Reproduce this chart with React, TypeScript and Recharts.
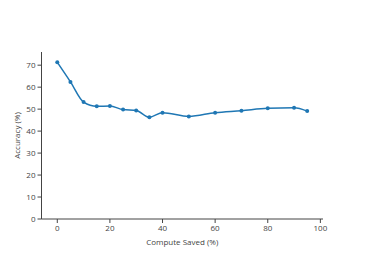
import { LineChart, Line, XAxis, YAxis } from 'recharts';

const computeSaved = [0, 5, 10, 15, 20, 25, 30, 35, 40, 50, 60, 70, 80, 90, 95];
const accuracy = [71.3, 62.4, 53.2, 51.3, 51.4, 49.8, 49.4, 46.3, 48.4, 46.7, 48.4, 49.3, 50.4, 50.6, 49.1];
const xTicks = [0, 20, 40, 60, 80, 100];
const yTicks = [0, 10, 20, 30, 40, 50, 60, 70];

const data = computeSaved.map((x, i) => ({ x, acc: accuracy[i] }));

const axisColor = '#444';
const font = '"Open Sans", Verdana, Arial, sans-serif';

export default function App() {
  return (
    <div style={{ position: 'absolute', left: 0, top: 0, background: '#fff' }}>
      <LineChart
        width={366}
        height={261}
        data={data}
        margin={{ top: 52, right: 43, bottom: 12, left: 0 }}
        style={{ fontFamily: font }}
      >
        <XAxis
          dataKey="x"
          type="number"
          domain={[-6, 101]}
          ticks={xTicks}
          height={30}
          tickSize={4}
          tickMargin={2}
          stroke={axisColor}
          tick={{ fill: axisColor, fontSize: 8 }}
          label={{
            value: 'Compute Saved (%)',
            position: 'insideBottom',
            offset: 4,
            style: { fill: axisColor, fontSize: 8 },
          }}
        />
        <YAxis
          type="number"
          domain={[0, 76]}
          ticks={yTicks}
          width={41.5}
          tickSize={4}
          tickMargin={2}
          stroke={axisColor}
          tick={{ fill: axisColor, fontSize: 8 }}
          label={{
            value: 'Accuracy (%)',
            angle: -90,
            position: 'insideLeft',
            offset: 17,
            style: { textAnchor: 'middle', fill: axisColor, fontSize: 8 },
          }}
        />
        <Line
          dataKey="acc"
          type="monotone"
          stroke="#1f77b4"
          strokeWidth={1.5}
          dot={{ r: 2, fill: '#1f77b4', stroke: 'none' }}
          activeDot={false}
          isAnimationActive={false}
        />
      </LineChart>
    </div>
  );
}
